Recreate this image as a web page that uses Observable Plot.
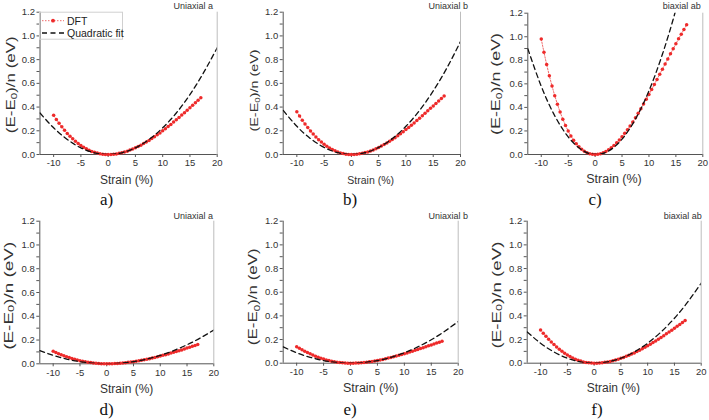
<!DOCTYPE html>
<html><head><meta charset="utf-8">
<script src="https://cdn.jsdelivr.net/npm/d3@7"></script>
<script src="https://cdn.jsdelivr.net/npm/@observablehq/plot@0.6"></script>
<style>
body{margin:0;background:#fff;}
#root{position:relative;width:709px;height:420px;overflow:hidden;background:#fff;font-family:"Liberation Sans",Arial,sans-serif;}
.panel{position:absolute;}
</style></head><body><div id="root"></div>
<script>
// ---- data ----
const strain = [-10,-9.5,-9,-8.5,-8,-7.5,-7,-6.5,-6,-5.5,-5,-4.5,-4,-3.5,-3,-2.5,-2,-1.5,-1,-0.5,0,0.5,1,1.5,2,2.5,3,3.5,4,4.5,5,5.5,6,6.5,7,7.5,8,8.5,9,9.5,10,10.5,11,11.5,12,12.5,13,13.5,14,14.5,15,15.5,16,16.5,17];
const fitStrain = [-12.5,-10,-7.5,-5,-2.5,0,2.5,5,7.5,10,12.5,15,17.5,20];

const dftA = [0.330,0.296,0.263,0.233,0.205,0.178,0.154,0.132,0.111,0.093,0.076,0.061,0.048,0.036,0.026,0.018,0.012,0.007,0.003,0.001,0,
  0.001,0.002,0.005,0.010,0.015,0.021,0.028,0.037,0.046,0.056,0.067,0.079,0.092,0.105,0.119,0.134,0.150,0.166,0.182,0.200,0.217,0.236,0.254,0.274,0.293,0.313,0.333,0.353,0.374,0.395,0.416,0.437,0.458,0.479];
const dftB = [0.360,0.324,0.289,0.257,0.227,0.198,0.172,0.148,0.125,0.105,0.086,0.070,0.055,0.042,0.031,0.021,0.013,0.008,0.003,0.001,0,
  0.001,0.003,0.006,0.010,0.016,0.022,0.030,0.039,0.049,0.059,0.071,0.084,0.097,0.111,0.126,0.141,0.158,0.174,0.192,0.210,0.228,0.247,0.266,0.286,0.306,0.326,0.347,0.368,0.389,0.410,0.431,0.452,0.473,0.494];
const dftC = [0.980,0.868,0.764,0.669,0.581,0.500,0.427,0.360,0.300,0.247,0.199,0.158,0.122,0.091,0.065,0.044,0.028,0.015,0.007,0.002,0,
  0.002,0.007,0.015,0.026,0.041,0.058,0.077,0.099,0.124,0.151,0.180,0.210,0.243,0.277,0.313,0.350,0.389,0.428,0.469,0.510,0.552,0.595,0.638,0.682,0.725,0.769,0.812,0.855,0.898,0.940,0.982,1.022,1.062,1.101];
const dftD = [0.105,0.095,0.085,0.076,0.067,0.059,0.052,0.044,0.038,0.032,0.026,0.021,0.017,0.013,0.010,0.007,0.004,0.002,0.001,0.000,0,
  0.000,0.001,0.002,0.003,0.005,0.007,0.009,0.012,0.015,0.018,0.021,0.025,0.029,0.034,0.038,0.043,0.048,0.054,0.059,0.065,0.071,0.077,0.083,0.090,0.097,0.103,0.110,0.117,0.125,0.132,0.139,0.147,0.154,0.162];
const dftE = [0.140,0.126,0.113,0.101,0.090,0.079,0.069,0.059,0.050,0.042,0.035,0.028,0.022,0.017,0.013,0.009,0.006,0.003,0.001,0.000,0,
  0.000,0.001,0.002,0.004,0.006,0.009,0.012,0.015,0.019,0.023,0.027,0.032,0.037,0.043,0.048,0.054,0.060,0.067,0.073,0.080,0.087,0.094,0.101,0.109,0.116,0.124,0.131,0.139,0.147,0.154,0.162,0.170,0.178,0.185];
const dftF = [0.280,0.253,0.227,0.202,0.179,0.158,0.137,0.118,0.101,0.085,0.070,0.057,0.045,0.034,0.025,0.018,0.011,0.006,0.003,0.001,0,
  0.000,0.002,0.004,0.007,0.011,0.015,0.021,0.027,0.033,0.041,0.049,0.058,0.067,0.077,0.087,0.098,0.110,0.122,0.134,0.147,0.160,0.174,0.188,0.203,0.217,0.233,0.248,0.264,0.279,0.295,0.312,0.328,0.345,0.361];

const fitA = [0.350,0.225,0.127,0.056,0.014,0.000,0.014,0.056,0.127,0.225,0.350,0.505,0.690,0.900];
const fitB = [0.372,0.238,0.134,0.060,0.015,0.000,0.015,0.060,0.134,0.238,0.372,0.536,0.729,0.952];
const fitC = [0.899,0.579,0.329,0.150,0.040,0.000,0.030,0.130,0.301,0.541,0.851,1.230,1.680,2.200];
const fitD = [0.111,0.071,0.040,0.018,0.005,0.000,0.005,0.018,0.040,0.071,0.111,0.160,0.218,0.284];
const fitE = [0.138,0.088,0.050,0.022,0.006,0.000,0.006,0.022,0.050,0.088,0.138,0.198,0.270,0.352];
const fitF = [0.264,0.169,0.095,0.042,0.011,0.000,0.011,0.042,0.095,0.169,0.264,0.380,0.518,0.676];

const titles = ["Uniaxial a","Uniaxial b","biaxial ab","Uniaxial a","Uniaxial b","biaxial ab"];
const letters = ["a)","b)","c)","d)","e)","f)"];
const xTicks = [-10,-5,0,5,10,15,20];
const yTicks = [0,0.1,0.2,0.3,0.4,0.5,0.6,0.7,0.8,0.9,1.0,1.1,1.2];
const xDomain = [-12.5,20];
const yDomain = [0,1.2];
const legendLabels = ["DFT","Quadratic fit"];
const xLabel = "Strain (%)";

const RED = "#ee2a2a";

// ---- layout (positions/styles only) ----
const panels = [
 {dft:dftA, fit:fitA, x0:0,   y0:0,   w:235, ml:39.5, mr:18.3, mt:11.7, mb:56,   titleX:213,   ylx:11,   yly:84.7, ylFs:12.5, ylLen:97,  xlx:126.7, xly:180,   xlFs:12,   letX:106.7, legend:true},
 {dft:dftB, fit:fitB, x0:235, y0:0,   w:235, ml:47.7, mr:10,   mt:11.7, mb:56,   titleX:233,   ylx:19,   yly:90.5, ylFs:11.5, ylLen:82,  xlx:135.7, xly:180,   xlFs:10.5, letX:115},
 {dft:dftC, fit:fitC, x0:470, y0:0,   w:239, ml:57.3, mr:6.7,  mt:12.7, mb:56,   titleX:230.7, ylx:25,   yly:84,   ylFs:13, ylLen:102, xlx:144,   xly:179,   xlFs:12.5, letX:125},
 {dft:dftD, fit:fitD, x0:0,   y0:210, w:235, ml:39.3, mr:21.7, mt:10.7, mb:56.7, titleX:213,   ylx:8,    yly:85.8, ylFs:13, ylLen:108, xlx:126.7, xly:179,   xlFs:12,   letX:106.7},
 {dft:dftE, fit:fitE, x0:235, y0:210, w:235, ml:47.7, mr:12.3, mt:10.7, mb:57.3, titleX:233,   ylx:18.3, yly:86.7, ylFs:12.5, ylLen:97,  xlx:135.7, xly:177.7, xlFs:12.5, letX:115},
 {dft:dftF, fit:fitF, x0:470, y0:210, w:239, ml:56.7, mr:8.3,  mt:10.7, mb:57.3, titleX:231.7, ylx:25.8, yly:85,   ylFs:13, ylLen:107, xlx:143.3, xly:178.3, xlFs:12,   letX:127},
];

const root = document.getElementById("root");
const H = 210;

panels.forEach((p, i) => {
  const dftRows = strain.map((s, j) => ({s, e: p.dft[j]}));
  const fitRows = fitStrain.map((s, j) => ({s, e: p.fit[j]}));
  const svg = Plot.plot({
    width: p.w, height: H,
    marginLeft: p.ml, marginRight: p.mr, marginTop: p.mt, marginBottom: p.mb,
    style: {fontFamily: "Liberation Sans, Arial, sans-serif", fontSize: "9.5px", color: "#333", background: "transparent", overflow: "visible"},
    x: {domain: xDomain},
    y: {domain: yDomain},
    marks: [
      Plot.axisX({ticks: xTicks, tickSize: 3, tickPadding: 2, tickFormat: d => `${d}`, label: null, stroke: "#555"}),
      Plot.axisY({ticks: yTicks, tickSize: 3, tickPadding: 2, tickFormat: d => (Math.round(d * 10) % 2 === 0 ? d.toFixed(1) : ""), label: null, stroke: "#555"}),
      Plot.ruleX([xDomain[1]], {stroke: "#bdbdbd", strokeWidth: 1}),
      Plot.ruleX([xDomain[0]], {stroke: "#555", strokeWidth: 1}),
      Plot.ruleY([yDomain[0]], {stroke: "#555", strokeWidth: 1}),
      Plot.line(dftRows, {x: "s", y: "e", stroke: "#f06a6a", strokeWidth: 1, strokeDasharray: "1.5,1.5"}),
      Plot.dot(dftRows, {x: "s", y: "e", r: 1.75, fill: RED, stroke: "none"}),
      Plot.line(fitRows, {x: "s", y: "e", stroke: "#111", strokeWidth: 1.3, strokeDasharray: "5,3.5", curve: "natural", clip: true})
    ]
  });
  const div = document.createElement("div");
  div.className = "panel";
  div.style.left = p.x0 + "px";
  div.style.top = p.y0 + "px";
  div.appendChild(svg);
  root.appendChild(div);

  const g = d3.select(svg).append("g")
    .attr("font-family", "Liberation Sans, Arial, sans-serif")
    .attr("text-anchor", "start");

  // panel title
  g.append("text").attr("x", p.titleX).attr("y", 8.5).attr("text-anchor", "end")
    .attr("font-size", 9).attr("fill", "#333").text(titles[i]);

  // x label
  g.append("text").attr("x", p.xlx).attr("y", p.xly).attr("text-anchor", "middle")
    .attr("dominant-baseline", "central").attr("font-size", p.xlFs).attr("fill", "#333").text(xLabel);

  // y label with subscript
  const yl = g.append("text").attr("text-anchor", "middle").attr("dominant-baseline", "central")
    .attr("font-size", p.ylFs).attr("fill", "#333");
  yl.append("tspan").text("(E-E");
  yl.append("tspan").attr("font-size", p.ylFs * 0.68).attr("dy", p.ylFs * 0.25).text("0");
  yl.append("tspan").attr("dy", -p.ylFs * 0.25).text(")/n (eV)");
  const natural = yl.node().getComputedTextLength() || 1;
  const sx = p.ylLen / natural;
  yl.attr("transform", `translate(${p.ylx},${p.yly}) rotate(-90) scale(${sx},1)`);

  // panel letter
  g.append("text").attr("x", p.letX).attr("y", 205).attr("text-anchor", "middle")
    .attr("font-family", "Liberation Serif, Times New Roman, serif").attr("font-size", 17).attr("fill", "#111").text(letters[i]);

  if (p.legend) {
    const L = g.append("g");
    L.append("rect").attr("x", p.ml).attr("y", p.mt + 0.5).attr("width", 83).attr("height", 27)
      .attr("fill", "none").attr("stroke", "#d0d0d0").attr("stroke-width", 1);
    L.append("line").attr("x1", 42).attr("x2", 64).attr("y1", 20.7).attr("y2", 20.7)
      .attr("stroke", "#f06a6a").attr("stroke-width", 1).attr("stroke-dasharray", "1.5,1.5");
    L.append("circle").attr("cx", 53).attr("cy", 20.7).attr("r", 1.9).attr("fill", RED);
    L.append("text").attr("x", 67).attr("y", 20.7).attr("text-anchor", "start").attr("dominant-baseline", "central")
      .attr("font-size", 10.5).attr("fill", "#222").text(legendLabels[0]);
    L.append("line").attr("x1", 42).attr("x2", 64).attr("y1", 33).attr("y2", 33)
      .attr("stroke", "#111").attr("stroke-width", 1.3).attr("stroke-dasharray", "5,3.5");
    L.append("text").attr("x", 67).attr("y", 33).attr("text-anchor", "start").attr("dominant-baseline", "central")
      .attr("font-size", 10.5).attr("fill", "#222").text(legendLabels[1]);
  }
});
</script>
</body></html>
